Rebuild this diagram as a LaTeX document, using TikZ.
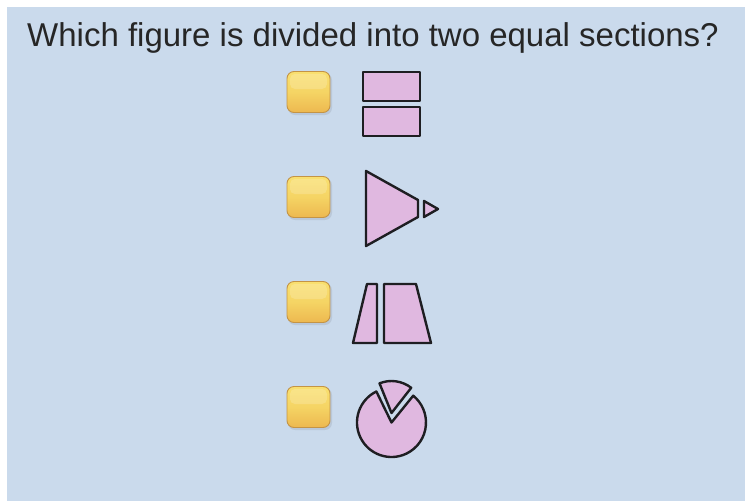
\documentclass[tikz,border=0pt]{standalone}
\usepackage{fontspec}
\setmainfont{Liberation Sans}
\definecolor{bgblue}{RGB}{202,218,236}
\definecolor{shapefill}{RGB}{224,184,224}
\definecolor{edgedark}{RGB}{30,30,34}
\definecolor{btntop}{RGB}{249,224,112}
\definecolor{btnmid}{RGB}{245,212,100}
\definecolor{btnbot}{RGB}{237,184,80}
\definecolor{btnedge}{RGB}{196,148,70}
\begin{document}
\begin{tikzpicture}[x=1pt,y=-1pt,
  piece/.style={fill=shapefill,draw=edgedark,line width=2.4pt,line join=round},
  button/.style={draw=btnedge,line width=0.9pt,rounded corners=7pt,
    top color=btntop,bottom color=btnbot,middle color=btnmid}]
\useasboundingbox (0,0) rectangle (745,501);
\fill[white] (0,0) rectangle (745,501);
\fill[bgblue] (7,7) rectangle (745,501);
\node[anchor=base west,inner sep=0pt,font=\fontsize{33}{36}\selectfont,text=black!85] (title) at (27,46) {Which figure is divided into two equal sections?};
% buttons
\foreach \yy/\nm in {92/b1,197/b2,302/b3,407/b4}{
  \fill[black,opacity=0.08,rounded corners=7pt] (288,\yy-19) rectangle (332,\yy+23);
  \draw[button] (287,\yy-20.5) rectangle (330,\yy+20.5);
  \fill[white,opacity=0.18,rounded corners=5pt] (290,\yy-18) rectangle (327,\yy-3);
  \coordinate (\nm) at (308.5,\yy);
}
% row 1: two rectangles
\draw[piece] (363,72) rectangle (420,101);
\draw[piece] (363,107) rectangle (420,136);
% row 2: triangle cut
\draw[piece] (366,171) -- (418,200) -- (418,217) -- (366,246) -- cycle;
\draw[piece] (424,201) -- (438,209) -- (424,217) -- cycle;
% row 3: trapezoid cut
\draw[piece] (367,284) -- (377,284) -- (377,343) -- (353,343) -- cycle;
\draw[piece] (384,284) -- (416,284) -- (431,343) -- (384,343) -- cycle;
% row 4: circle with wedge
\coordinate (cc) at (391.5,422.5);
\draw[piece] (cc) -- ++(-116:34.5) arc[start angle=-116,end angle=-411,radius=34.5] -- cycle;
\coordinate (wc) at (391.5,413);
\draw[piece] (wc) -- ++(-112:32) arc[start angle=-112,end angle=-52,radius=32] -- cycle;
\end{tikzpicture}
\end{document}
